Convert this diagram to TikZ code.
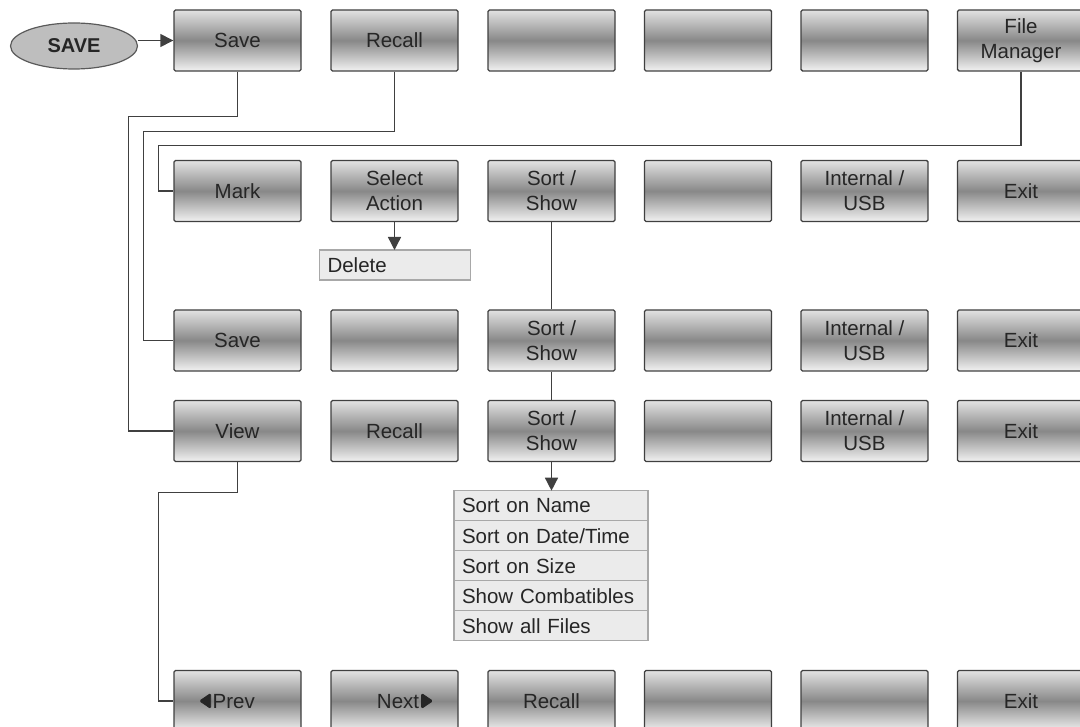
\documentclass[tikz,border=0pt]{standalone}
\usepackage{fontspec}
\setmainfont{Liberation Sans}
\usetikzlibrary{arrows.meta,shapes.geometric}
\definecolor{linegray}{HTML}{404040}
\definecolor{btntop}{HTML}{E2E2E2}
\definecolor{btnmid}{HTML}{888888}
\definecolor{btnbot}{HTML}{F2F2F2}
\definecolor{txtgray}{HTML}{262626}
\definecolor{listfill}{HTML}{EBEBEB}
\definecolor{listborder}{HTML}{A8A8A8}
\definecolor{ellfill}{HTML}{BEBEBE}
\definecolor{ellborder}{HTML}{5A5A5A}
\newcommand{\lefttri}{\tikz[baseline=0pt,x=1pt,y=1pt]\filldraw[txtgray, line width=0.8pt, line join=miter] (11.5,0.3) -- (0.4,7.8) -- (11.5,15.3) -- cycle;}
\newcommand{\righttri}{\tikz[baseline=0pt,x=1pt,y=1pt]\filldraw[txtgray, line width=0.8pt, line join=miter] (0.4,0.3) -- (11.5,7.8) -- (0.4,15.3) -- cycle;}
\begin{document}
\begin{tikzpicture}[x=1pt,y=-1pt,
  btn/.style={draw=linegray, line width=1.4pt, rounded corners=1.5pt,
    minimum width=127pt, minimum height=61pt,
    top color=btntop, bottom color=btnbot, middle color=btnmid,
    align=center, font=\fontsize{20.5}{25}\selectfont, text=txtgray, inner sep=0pt},
  conn/.style={draw=linegray, line width=1.4pt},
  arr/.style={conn, -{Triangle[length=13pt,width=13pt]}},
  listitem/.style={draw=listborder, fill=listfill, line width=1.2pt,
    minimum width=194pt, minimum height=30pt, text width=178pt, align=left,
    inner xsep=8pt, inner ysep=0pt, outer sep=0pt, anchor=north,
    font=\fontsize{20.5}{25}\selectfont, text=txtgray},
  keyell/.style={ellipse, draw=ellborder, fill=ellfill, line width=1.2pt,
    minimum width=127pt, minimum height=46pt, inner sep=0pt,
    font=\fontsize{20}{24}\selectfont\bfseries, text=txtgray}
]
\useasboundingbox (0,0) rectangle (1080,727);
\clip (0,0) rectangle (1080,727);

% key
\node[keyell] (savekey) at (74,46) {SAVE};

% row 1
\node[btn] (r1c1) at (237.5,40.5) {Save};
\node[btn] (r1c2) at (394.5,40.5) {Recall};
\node[btn] (r1c3) at (551.5,40.5) {};
\node[btn] (r1c4) at (708,40.5) {};
\node[btn] (r1c5) at (864.5,40.5) {};
\node[btn] (r1c6) at (1021,40.5) {File\\Manager};

% row 2
\node[btn] (r2c1) at (237.5,191) {Mark};
\node[btn] (r2c2) at (394.5,191) {Select\\Action};
\node[btn] (r2c3) at (551.5,191) {Sort /\\Show};
\node[btn] (r2c4) at (708,191) {};
\node[btn] (r2c5) at (864.5,191) {Internal /\\USB};
\node[btn] (r2c6) at (1021,191) {Exit};

% row 3
\node[btn] (r3c1) at (237.5,340.5) {Save};
\node[btn] (r3c2) at (394.5,340.5) {};
\node[btn] (r3c3) at (551.5,340.5) {Sort /\\Show};
\node[btn] (r3c4) at (708,340.5) {};
\node[btn] (r3c5) at (864.5,340.5) {Internal /\\USB};
\node[btn] (r3c6) at (1021,340.5) {Exit};

% row 4
\node[btn] (r4c1) at (237.5,431) {View};
\node[btn] (r4c2) at (394.5,431) {Recall};
\node[btn] (r4c3) at (551.5,431) {Sort /\\Show};
\node[btn] (r4c4) at (708,431) {};
\node[btn] (r4c5) at (864.5,431) {Internal /\\USB};
\node[btn] (r4c6) at (1021,431) {Exit};

% row 5
\node[btn] (r5c1) at (237.5,701) {\lefttri\kern1.5pt Prev\kern21pt};
\node[btn] (r5c2) at (394.5,701) {\kern21pt Next\kern2pt\righttri};
\node[btn] (r5c3) at (551.5,701) {Recall};
\node[btn] (r5c4) at (708,701) {};
\node[btn] (r5c5) at (864.5,701) {};
\node[btn] (r5c6) at (1021,701) {Exit};

% Delete box
\node[listitem, minimum width=151pt, text width=135pt] (del) at (395,250) {Delete};

% sort list
\node[listitem] (l1) at (551,490.7) {Sort on Name};
\node[listitem] (l2) at (l1.south) {Sort on Date/Time};
\node[listitem] (l3) at (l2.south) {Sort on Size};
\node[listitem] (l4) at (l3.south) {Show Combatibles};
\node[listitem] (l5) at (l4.south) {Show all Files};

% connectors
\draw[arr] (savekey.east |- r1c1.west) -- (r1c1.west);
\draw[conn] (r1c1.south) -- ++(0,45) -| ([xshift=-45pt]r4c1.west) -- (r4c1.west);
\draw[conn] (r1c2.south) -- ++(0,60) -| ([xshift=-30pt]r3c1.west) -- (r3c1.west);
\draw[conn] (r1c6.south) -- ++(0,74) -| ([xshift=-15pt]r2c1.west) -- (r2c1.west);
\draw[conn] (r4c1.south) -- ++(0,30) -| ([xshift=-15pt]r5c1.west) -- (r5c1.west);
\draw[arr] (r2c2.south) -- (r2c2.south |- del.north);
\draw[conn] (r2c3.south) -- (r3c3.north);
\draw[conn] (r3c3.south) -- (r4c3.north);
\draw[arr] (r4c3.south) -- (r4c3.south |- l1.north);
\end{tikzpicture}
\end{document}
